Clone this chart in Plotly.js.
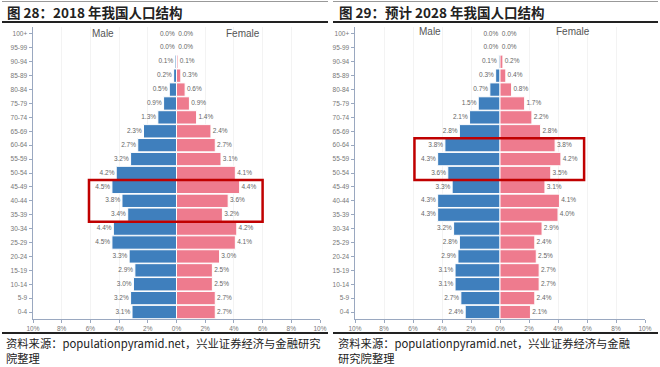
<!DOCTYPE html>
<html><head><meta charset="utf-8">
<script src="https://cdn.plot.ly/plotly-3.0.1.min.js"></script>
<style>body{margin:0;padding:0;background:#fff}#c{width:660px;height:367px}</style>
</head><body><div id="c"></div>
<script>
// Age groups, listed top (oldest) to bottom (youngest)
const ages = ['100+','95-99','90-94','85-89','80-84','75-79','70-74','65-69','60-64','55-59','50-54','45-49','40-44','35-39','30-34','25-29','20-24','15-19','10-14','5-9','0-4'];
// 2018 (%)
const male2018   = [0.0,0.0,0.1,0.2,0.5,0.9,1.3,2.3,2.7,3.2,4.2,4.5,3.8,3.4,4.4,4.5,3.3,2.9,3.0,3.2,3.1];
const female2018 = [0.0,0.0,0.1,0.3,0.6,0.9,1.4,2.4,2.7,3.1,4.1,4.4,3.6,3.2,4.2,4.1,3.0,2.5,2.5,2.7,2.7];
// 2028 forecast (%)
const male2028   = [0.0,0.0,0.1,0.3,0.7,1.5,2.1,2.8,3.8,4.3,3.6,3.3,4.3,4.3,3.2,2.8,2.9,3.1,3.1,2.7,2.4];
const female2028 = [0.0,0.0,0.2,0.4,0.8,1.7,2.2,2.8,3.8,4.2,3.5,3.1,4.1,4.0,2.9,2.4,2.5,2.7,2.7,2.4,2.1];
const tickVals = [-10,-8,-6,-4,-2,0,2,4,6,8,10];
const tickText = ['10%','8%','6%','4%','2%','0%','2%','4%','6%','8%','10%'];
const titles = ['图 28：2018 年我国人口结构','图 29：预计 2028 年我国人口结构'];
const sources = [['资料来源：populationpyramid.net，兴业证券经济与金融研究','院整理'],['资料来源：populationpyramid.net，兴业证券经济与金融','研究院整理']];

const BLUE='#3f7fbd', PINK='#ee7b8e';
const W=660,H=367;
const px=x=>x/W, py=y=>1-y/H;
const lbl = v => v.toFixed(1)+'%';
function bar(vals, sign, color, xa, ya){
  return {type:'bar', orientation:'h', y:ages, x:vals.map(v=>sign*v),
    marker:{color:color,line:{color:'#fff',width:1}},
    xaxis:xa, yaxis:ya, hoverinfo:'skip', showlegend:false};
}
function labels(vals, sign, xa, ya){
  return {type:'scatter', mode:'text', y:ages, x:vals.map(v=>sign*v),
    text:vals.map(v=>sign<0?lbl(v)+' ':' '+lbl(v)), textposition: sign<0?'middle left':'middle right',
    textfont:{size:6.5,color:'#666',family:'Liberation Sans'}, cliponaxis:false,
    xaxis:xa, yaxis:ya, hoverinfo:'skip', showlegend:false};
}
const data=[
  bar(male2018,-1,BLUE,'x','y'), bar(female2018,1,PINK,'x','y'),
  bar(male2028,-1,BLUE,'x2','y2'), bar(female2028,1,PINK,'x2','y2'),
  labels(male2018,-1,'x','y'), labels(female2018,1,'x','y'),
  labels(male2028,-1,'x2','y2'), labels(female2028,1,'x2','y2')
];
function xax(d,anchor){
  return {domain:d, anchor:anchor, range:[-10,10], tickvals:tickVals, ticktext:tickText,
    tickfont:{size:6.5,color:'#777',family:'Liberation Sans'}, ticks:'outside', ticklen:3, tickcolor:'#9aa8c0',
    showline:true, linecolor:'#9aa8c0', linewidth:1, showgrid:true, gridcolor:'#f3f3f3', zeroline:false, fixedrange:true};
}
function yax(d,anchor){
  return {domain:d, anchor:anchor, type:'category', range:[20.5,-0.5],
    tickfont:{size:6.5,color:'#777',family:'Liberation Sans'}, ticks:'outside', ticklen:3, tickcolor:'#9aa8c0',
    showline:true, linecolor:'#9aa8c0', linewidth:1.5, showgrid:false, fixedrange:true};
}
const yd=[py(319),py(27)];
const ann=(x,y,text,size,color,fam,anchor)=>({xref:'paper',yref:'paper',x:px(x),y:py(y),xanchor:anchor||'center',yanchor:'middle',showarrow:false,text:text,font:{size:size,color:color,family:fam}});
const layout={
  width:W,height:H,margin:{l:0,r:0,t:0,b:0},paper_bgcolor:'#fff',plot_bgcolor:'#fff',
  barmode:'relative', bargap:0.04,
  xaxis:xax([px(33),px(320)],'y'), yaxis:yax(yd,'x'),
  xaxis2:xax([px(355),px(645)],'y2'), yaxis2:yax(yd,'x2'),
  shapes:[
    {type:'line',xref:'paper',yref:'paper',x0:px(2),x1:px(328),y0:py(1.5),y1:py(1.5),line:{color:'#999',width:1}},
    {type:'line',xref:'paper',yref:'paper',x0:px(333),x1:px(658),y0:py(1.5),y1:py(1.5),line:{color:'#999',width:1}},
    {type:'line',xref:'paper',yref:'paper',x0:px(2),x1:px(328),y0:py(22),y1:py(22),line:{color:'#222',width:2}},
    {type:'line',xref:'paper',yref:'paper',x0:px(333),x1:px(658),y0:py(22),y1:py(22),line:{color:'#222',width:2}},
    {type:'line',xref:'paper',yref:'paper',x0:px(2),x1:px(328),y0:py(333),y1:py(333),line:{color:'#222',width:2}},
    {type:'line',xref:'paper',yref:'paper',x0:px(333),x1:px(658),y0:py(333),y1:py(333),line:{color:'#222',width:2}},
    {type:'rect',xref:'x',yref:'y',x0:-6.1,x1:6.0,y0:10.5,y1:13.5,line:{color:'#c00000',width:2.5}},
    {type:'rect',xref:'x2',yref:'y2',x0:-5.9,x1:5.8,y0:7.5,y1:10.5,line:{color:'#c00000',width:2.5}}
  ],
  annotations:[
    ann(5,12,'<b>'+titles[0]+'</b>',13.5,'#222','Noto Sans CJK SC','left'),
    ann(337,12,'<b>'+titles[1]+'</b>',13.5,'#222','Noto Sans CJK SC','left'),
    ann(103,33,'Male',10,'#555','Liberation Sans'),
    ann(243,33,'Female',10,'#555','Liberation Sans'),
    ann(430,32,'Male',10,'#555','Liberation Sans'),
    ann(573,32,'Female',10,'#555','Liberation Sans'),
    ann(4,343,sources[0][0],11.3,'#222','Noto Sans CJK SC','left'),
    ann(4,358,sources[0][1],11.3,'#222','Noto Sans CJK SC','left'),
    ann(336,343,sources[1][0],11.3,'#222','Noto Sans CJK SC','left'),
    ann(336,358,sources[1][1],11.3,'#222','Noto Sans CJK SC','left')
  ]
};
Plotly.newPlot('c',data,layout,{staticPlot:true,displayModeBar:false});
</script></body></html>
